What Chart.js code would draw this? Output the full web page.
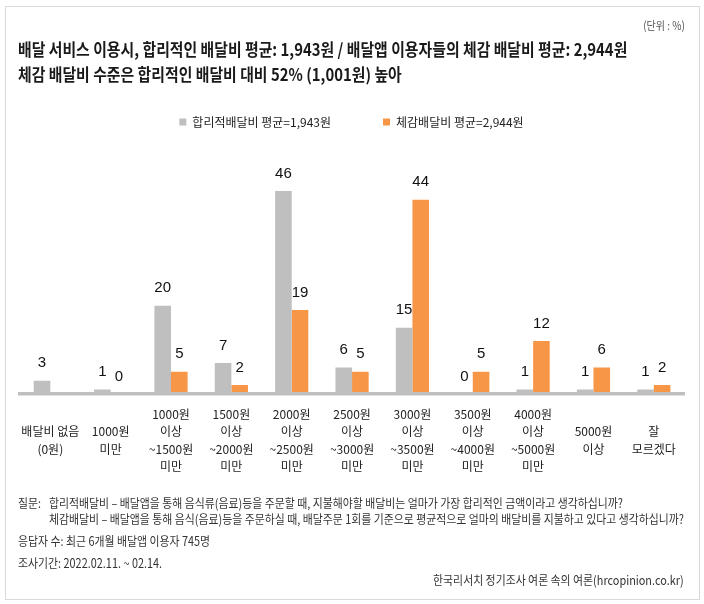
<!DOCTYPE html>
<html>
<head>
<meta charset="utf-8">
<script src="https://cdn.jsdelivr.net/npm/chart.js@4.4.1/dist/chart.umd.min.js"></script>
<style>
html,body{margin:0;padding:0;background:#fff;}
#wrap{position:relative;width:704px;height:604px;overflow:hidden;font-family:"Noto Sans CJK KR","Noto Sans",sans-serif;}
#frame{position:absolute;left:5px;top:6px;width:695px;height:594px;border:1px solid #d9d9d9;box-sizing:border-box;}
#c{position:absolute;left:0;top:0;}
.t{position:absolute;white-space:nowrap;line-height:1;}
</style>
</head>
<body>
<div id="wrap">
  <div id="frame"></div>
  <canvas id="c" width="704" height="604"></canvas>
  <div class="t" id="unit">(단위 : %)</div>
  <div class="t" id="title1">배달 서비스 이용시, 합리적인 배달비 평균: 1,943원 / 배달앱 이용자들의 체감 배달비 평균: 2,944원</div>
  <div class="t" id="title2">체감 배달비 수준은 합리적인 배달비 대비 52% (1,001원) 높아</div>
  <div class="t" id="q0">질문:</div>
  <div class="t" id="q1">합리적배달비 – 배달앱을 통해 음식류(음료)등을 주문할 때, 지불해야할 배달비는 얼마가 가장 합리적인 금액이라고 생각하십니까?</div>
  <div class="t" id="q2">체감배달비 – 배달앱을 통해 음식(음료)등을 주문하실 때, 배달주문 1회를 기준으로 평균적으로 얼마의 배달비를 지불하고 있다고 생각하십니까?</div>
  <div class="t" id="n1">응답자 수: 최근 6개월 배달앱 이용자 745명</div>
  <div class="t" id="n2">조사기간: 2022.02.11. ~ 02.14.</div>
  <div class="t" id="src">한국리서치 정기조사 여론 속의 여론(hrcopinion.co.kr)</div>
</div>
<script>
// ---- data ----
const categories = [
  ['배달비 없음', '(0원)'],
  ['1000원', '미만'],
  ['1000원', '이상', '~1500원', '미만'],
  ['1500원', '이상', '~2000원', '미만'],
  ['2000원', '이상', '~2500원', '미만'],
  ['2500원', '이상', '~3000원', '미만'],
  ['3000원', '이상', '~3500원', '미만'],
  ['3500원', '이상', '~4000원', '미만'],
  ['4000원', '이상', '~5000원', '미만'],
  ['5000원', '이상'],
  ['잘', '모르겠다']
];
const seriesNames = ['합리적배달비 평균=1,943원', '체감배달비 평균=2,944원'];
const reasonableFee = [3, 1, 20, 7, 46, 6, 15, 0, 1, 1, 1];
const perceivedFee = [null, 0, 5, 2, 19, 5, 44, 5, 12, 6, 2];

// ---- text layout (HTML) ----
const KR = '"Noto Sans CJK KR","Noto Sans",sans-serif';
function setText(id, size, weight, color, cy) {
  const el = document.getElementById(id);
  el.style.fontSize = size + 'px';
  el.style.fontWeight = weight;
  el.style.color = color;
  el.style.top = (cy - size / 2) + 'px';
  return el;
}
function placeLeft(el, x, s) {
  el.style.left = x + 'px';
  el.style.transformOrigin = '0 50%';
  el.style.transform = 'scaleX(' + s + ')';
}
function placeRight(el, xr, s) {
  el.style.left = (xr - el.offsetWidth) + 'px';
  el.style.transformOrigin = '100% 50%';
  el.style.transform = 'scaleX(' + s + ')';
}
function layoutTexts() {
  const t1 = setText('title1', 17, 700, '#1a1a1a', 48);
  const t2 = setText('title2', 17, 700, '#1a1a1a', 73);
  const sT = 609 / t1.offsetWidth;
  placeLeft(t1, 18, sT);
  placeLeft(t2, 18, sT);

  const fs = 12.5;
  const q2 = setText('q2', fs, 400, '#333', 519);
  const sF = 635 / q2.offsetWidth;
  placeLeft(q2, 49, sF);
  placeLeft(setText('q1', fs, 400, '#333', 503), 49, sF);
  placeLeft(setText('q0', fs, 400, '#333', 503), 18, sF);
  placeLeft(setText('n1', fs, 400, '#333', 541), 18, sF);
  placeLeft(setText('n2', fs, 400, '#333', 563), 18, sF);
  placeRight(setText('src', fs, 400, '#333', 580), 684, sF);
  placeRight(setText('unit', 11.5, 400, '#555', 26), 685, sF);
}

// ---- value labels plugin ----
const valueLabels = {
  id: 'valueLabels',
  afterDatasetsDraw(chart) {
    const ctx = chart.ctx;
    ctx.save();
    ctx.font = '15px "Liberation Sans", Arial, sans-serif';
    ctx.fillStyle = '#111';
    ctx.textAlign = 'center';
    ctx.textBaseline = 'middle';
    chart.data.datasets.forEach((ds, di) => {
      const meta = chart.getDatasetMeta(di);
      meta.data.forEach((bar, i) => {
        const v = ds.data[i];
        if (v === null || v === undefined) return;
        ctx.fillText(String(v), bar.x, bar.y - 17.5);
      });
    });
    ctx.restore();
  }
};

function draw() {
  layoutTexts();
  new Chart(document.getElementById('c'), {
    type: 'bar',
    data: {
      labels: categories,
      datasets: [
        { label: seriesNames[0], data: reasonableFee, backgroundColor: '#bfbfbf', borderWidth: 0,
          categoryPercentage: 0.55, barPercentage: 1 },
        { label: seriesNames[1], data: perceivedFee, backgroundColor: '#f79646', borderWidth: 0,
          categoryPercentage: 0.55, barPercentage: 1 }
      ]
    },
    options: {
      responsive: false,
      animation: false,
      layout: { padding: { left: 19, right: 20, top: 64, bottom: 99.5 } },
      plugins: {
        legend: {
          position: 'top',
          labels: {
            boxWidth: 7, boxHeight: 7, padding: 52, color: '#222',
            font: { family: KR, size: 12 }
          }
        },
        tooltip: { enabled: false }
      },
      scales: {
        x: {
          grid: { display: false, drawTicks: false },
          border: { display: true, color: '#bfbfbf', width: 3.5, z: 1 },
          ticks: {
            padding: 20.5, crossAlign: 'center', maxRotation: 0, autoSkip: false,
            color: '#222', font: { family: KR, size: 12, lineHeight: 1.45 }
          }
        },
        y: { display: false, min: 0, max: 58 }
      }
    },
    plugins: [valueLabels]
  });
}
if (document.fonts && document.fonts.ready) {
  document.fonts.load('12px "Noto Sans CJK KR"').then(() => document.fonts.ready).then(draw, draw);
} else { draw(); }
</script>
</body>
</html>
